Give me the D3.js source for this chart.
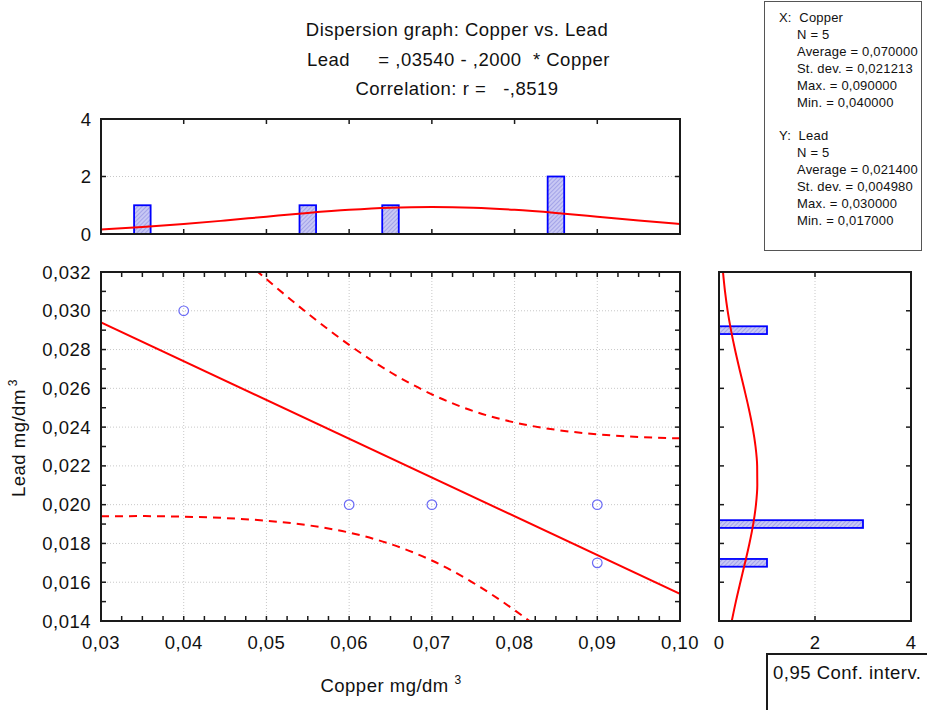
<!DOCTYPE html>
<html><head><meta charset="utf-8">
<script src="https://cdn.jsdelivr.net/npm/d3@7"></script>
<style>
html,body{margin:0;padding:0;background:#fff;}
svg{display:block;font-family:"Liberation Sans",Arial,sans-serif;}
</style></head>
<body><svg id="c" width="927" height="710"></svg>
<script>
// ---- data ----
const copper = [0.04, 0.06, 0.07, 0.09, 0.09];
const lead   = [0.030, 0.020, 0.020, 0.020, 0.017];
const regX = [0.03, 0.10];
const regY = [0.0294, 0.0154];
const bandX = [0.030,0.035,0.040,0.045,0.050,0.055,0.060,0.065,0.070,0.075,0.080,0.085,0.090,0.095,0.100];
const bandUpper = [0.03940,0.03739,0.03542,0.03349,0.03163,0.02986,0.02824,0.02683,0.02569,0.02483,0.02424,0.02386,0.02363,0.02349,0.02342];
const bandLower = [0.01940,0.01941,0.01938,0.01931,0.01917,0.01894,0.01856,0.01797,0.01712,0.01597,0.01456,0.01294,0.01117,0.00931,0.00738];
const xHistCenters = [0.035, 0.055, 0.065, 0.085];
const xHistCounts  = [1, 1, 1, 2];
const xNormX = [0.030,0.035,0.040,0.045,0.050,0.055,0.060,0.065,0.070,0.075,0.080,0.085,0.090,0.095,0.100];
const xNormY = [0.159,0.241,0.346,0.470,0.603,0.732,0.841,0.915,0.940,0.915,0.841,0.732,0.603,0.470,0.346];
const yHistCenters = [0.029, 0.019, 0.017];
const yHistCounts  = [1, 3, 1];
const yNormY = [0.014,0.015,0.016,0.017,0.018,0.019,0.020,0.021,0.022,0.023,0.024,0.025,0.026,0.027,0.028,0.029,0.030,0.031,0.032];
const yNormX = [0.266,0.351,0.445,0.542,0.634,0.713,0.770,0.798,0.795,0.761,0.699,0.617,0.523,0.426,0.333,0.250,0.180,0.125,0.083];
const xTicks = [0.03,0.04,0.05,0.06,0.07,0.08,0.09,0.10];
const yTicks = [0.014,0.016,0.018,0.020,0.022,0.024,0.026,0.028,0.030,0.032];
const countTicks = [0, 2, 4];
const titleLines = ["Dispersion graph: Copper vs. Lead", "Lead     = ,03540 - ,2000  * Copper", "Correlation: r =   -,8519"];
const statsLines = [
  ["X:  Copper", 0], ["N = 5", 1], ["Average = 0,070000", 1], ["St. dev. = 0,021213", 1], ["Max. = 0,090000", 1], ["Min. = 0,040000", 1],
  ["", 0],
  ["Y:  Lead", 0], ["N = 5", 1], ["Average = 0,021400", 1], ["St. dev. = 0,004980", 1], ["Max. = 0,030000", 1], ["Min. = 0,017000", 1]
];

// ---- layout ----
const svg = d3.select("#c");
const M = {l:101, r:680, t:272, b:621};
const T = {t:119, b:234};
const R = {l:719, r:911};
const FS = 18.5, LS = 0.5;
const fmt2 = v => d3.format(".2f")(v).replace(".", ",");
const fmt3 = v => d3.format(".3f")(v).replace(".", ",");
const frameColor = "#1a1a1a";
const red = "#ff0000";

const x = d3.scaleLinear().domain([0.03,0.10]).range([M.l, M.r]);
const y = d3.scaleLinear().domain([0.014,0.032]).range([M.b, M.t]);
const yc = d3.scaleLinear().domain([0,4]).range([T.b, T.t]);
const xc = d3.scaleLinear().domain([0,4]).range([R.l, R.r]);

// pattern
const defs = svg.append("defs");
const pat = defs.append("pattern").attr("id","hatch").attr("patternUnits","userSpaceOnUse")
  .attr("width",3).attr("height",3).attr("patternTransform","rotate(45)");
pat.append("rect").attr("width",3).attr("height",3).attr("fill","#c8c8f4");
pat.append("line").attr("x1",0).attr("y1",0).attr("x2",0).attr("y2",3).attr("stroke","#8a8ae0").attr("stroke-width",1.2);
["mainClip","topClip","rightClip"].forEach((id,i)=>{
  const r = [[M.l,M.t,M.r-M.l,M.b-M.t],[M.l,T.t,M.r-M.l,T.b-T.t],[R.l,M.t,R.r-R.l,M.b-M.t]][i];
  defs.append("clipPath").attr("id",id).append("rect").attr("x",r[0]).attr("y",r[1]).attr("width",r[2]).attr("height",r[3]);
});

// ---- title ----
svg.selectAll("text.title").data(titleLines).join("text").attr("class","title")
  .attr("x",(d,i)=> i===1 ? 307 : 457).attr("y",(d,i)=>36+i*29.5).attr("text-anchor",(d,i)=> i===1 ? "start" : "middle")
  .attr("font-size",FS).attr("letter-spacing",LS).attr("fill","#111").attr("xml:space","preserve").style("white-space","pre").text(d=>d);

// ---- stats box ----
svg.append("rect").attr("x",764.5).attr("y",1.5).attr("width",157).attr("height",249).attr("fill","none").attr("stroke","#555").attr("stroke-width",1);
svg.selectAll("text.stat").data(statsLines).join("text").attr("class","stat")
  .attr("x",d=>d[1]? 797: 779).attr("y",(d,i)=>22+i*16.9).attr("font-size",13).attr("letter-spacing",0.2)
  .attr("fill","#111").attr("xml:space","preserve").style("white-space","pre").text(d=>d[0]);

// ---- main plot ----
const gm = svg.append("g");
gm.selectAll("line.gx").data(xTicks.slice(1,-1)).join("line").attr("x1",d=>x(d)).attr("x2",d=>x(d)).attr("y1",M.t).attr("y2",M.b)
  .attr("stroke","#c8c8c8").attr("stroke-dasharray","1,2");
gm.selectAll("line.gy").data(yTicks.slice(1,-1)).join("line").attr("y1",d=>y(d)).attr("y2",d=>y(d)).attr("x1",M.l).attr("x2",M.r)
  .attr("stroke","#c8c8c8").attr("stroke-dasharray","1,2");
const xMinor = d3.range(0, 29).map(i => 0.03 + i*0.0025).filter(v=>v<=0.1000001);
const yMinor = d3.range(0, 19).map(i => 0.014 + i*0.001);
xMinor.forEach(v=>{
  gm.append("line").attr("x1",x(v)).attr("x2",x(v)).attr("y1",M.b).attr("y2",M.b-5).attr("stroke",frameColor).attr("stroke-width",1.5);
  gm.append("line").attr("x1",x(v)).attr("x2",x(v)).attr("y1",M.t).attr("y2",M.t+5).attr("stroke",frameColor).attr("stroke-width",1.5);
});
yMinor.forEach(v=>{
  gm.append("line").attr("y1",y(v)).attr("y2",y(v)).attr("x1",M.l).attr("x2",M.l+5).attr("stroke",frameColor).attr("stroke-width",1.5);
  gm.append("line").attr("y1",y(v)).attr("y2",y(v)).attr("x1",M.r).attr("x2",M.r-5).attr("stroke",frameColor).attr("stroke-width",1.5);
});
const gmc = gm.append("g").attr("clip-path","url(#mainClip)");
gmc.append("path").datum(regX.map((v,i)=>[v,regY[i]])).attr("d",d3.line().x(d=>x(d[0])).y(d=>y(d[1])))
  .attr("fill","none").attr("stroke",red).attr("stroke-width",2);
[bandUpper, bandLower].forEach(arr=>{
  gmc.append("path").datum(bandX.map((v,i)=>[v,arr[i]])).attr("d",d3.line().curve(d3.curveMonotoneX).x(d=>x(d[0])).y(d=>y(d[1])))
    .attr("fill","none").attr("stroke",red).attr("stroke-width",2).attr("stroke-dasharray","8,6");
});
gmc.selectAll("circle").data(copper.map((v,i)=>[v,lead[i]])).join("circle").attr("cx",d=>x(d[0])).attr("cy",d=>y(d[1])).attr("r",4.8)
  .attr("fill","none").attr("stroke","#6a6af5").attr("stroke-width",1.2);
gm.append("rect").attr("x",M.l).attr("y",M.t).attr("width",M.r-M.l).attr("height",M.b-M.t).attr("fill","none").attr("stroke",frameColor).attr("stroke-width",2);
gm.selectAll("text.xl").data(xTicks).join("text").attr("class","xl").attr("x",d=>x(d)).attr("y",649).attr("text-anchor","middle")
  .attr("font-size",FS).attr("letter-spacing",LS).attr("fill","#111").text(fmt2);
gm.selectAll("text.yl").data(yTicks).join("text").attr("class","yl").attr("x",91).attr("y",d=>y(d)+6.5).attr("text-anchor","end")
  .attr("font-size",FS).attr("letter-spacing",LS).attr("fill","#111").text(fmt3);
const xlab = svg.append("text").attr("x",391).attr("y",692).attr("text-anchor","middle").attr("font-size",FS).attr("letter-spacing",LS).attr("fill","#111");
xlab.append("tspan").text("Copper mg/dm ");
xlab.append("tspan").attr("font-size",12).attr("dy",-8).text("3");
const ylab = svg.append("text").attr("transform","translate(25,438) rotate(-90)").attr("text-anchor","middle").attr("font-size",FS).attr("letter-spacing",LS).attr("fill","#111");
ylab.append("tspan").text("Lead mg/dm");
ylab.append("tspan").attr("font-size",12).attr("dy",-8).attr("dx",3).text("3");

// ---- top histogram ----
const gt = svg.append("g");
gt.append("line").attr("x1",M.l).attr("x2",M.r).attr("y1",yc(2)).attr("y2",yc(2)).attr("stroke","#c8c8c8").attr("stroke-dasharray","1,2");
xTicks.forEach(v=>{
  gt.append("line").attr("x1",x(v)).attr("x2",x(v)).attr("y1",T.b).attr("y2",T.b-5).attr("stroke",frameColor).attr("stroke-width",1.5);
  gt.append("line").attr("x1",x(v)).attr("x2",x(v)).attr("y1",T.t).attr("y2",T.t+5).attr("stroke",frameColor).attr("stroke-width",1.5);
});
countTicks.forEach(v=>{
  gt.append("line").attr("y1",yc(v)).attr("y2",yc(v)).attr("x1",M.l).attr("x2",M.l+5).attr("stroke",frameColor).attr("stroke-width",1.5);
  gt.append("line").attr("y1",yc(v)).attr("y2",yc(v)).attr("x1",M.r).attr("x2",M.r-5).attr("stroke",frameColor).attr("stroke-width",1.5);
});
const gtc = gt.append("g").attr("clip-path","url(#topClip)");
gtc.selectAll("rect.bar").data(xHistCenters.map((c,i)=>[c,xHistCounts[i]])).join("rect").attr("class","bar")
  .attr("x",d=>x(d[0]-0.001)).attr("width",d=>x(d[0]+0.001)-x(d[0]-0.001))
  .attr("y",d=>yc(d[1])).attr("height",d=>yc(0)-yc(d[1]))
  .attr("fill","url(#hatch)").attr("stroke","#0000ff").attr("stroke-width",1.8);
gtc.append("path").datum(xNormX.map((v,i)=>[v,xNormY[i]])).attr("d",d3.line().curve(d3.curveMonotoneX).x(d=>x(d[0])).y(d=>yc(d[1])))
  .attr("fill","none").attr("stroke",red).attr("stroke-width",2);
gt.append("rect").attr("x",M.l).attr("y",T.t).attr("width",M.r-M.l).attr("height",T.b-T.t).attr("fill","none").attr("stroke",frameColor).attr("stroke-width",2);
gt.selectAll("text.cl").data(countTicks).join("text").attr("class","cl").attr("x",91).attr("y",d=>yc(d)+6.5).attr("text-anchor","end")
  .attr("font-size",FS).attr("fill","#111").text(d=>d);

// ---- right histogram ----
const gr = svg.append("g");
gr.append("line").attr("x1",xc(2)).attr("x2",xc(2)).attr("y1",M.t).attr("y2",M.b).attr("stroke","#c8c8c8").attr("stroke-dasharray","1,2");
yTicks.forEach(v=>{
  gr.append("line").attr("y1",y(v)).attr("y2",y(v)).attr("x1",R.l).attr("x2",R.l+5).attr("stroke",frameColor).attr("stroke-width",1.5);
  gr.append("line").attr("y1",y(v)).attr("y2",y(v)).attr("x1",R.r).attr("x2",R.r-5).attr("stroke",frameColor).attr("stroke-width",1.5);
});
countTicks.forEach(v=>{
  gr.append("line").attr("x1",xc(v)).attr("x2",xc(v)).attr("y1",M.t).attr("y2",M.t+5).attr("stroke",frameColor).attr("stroke-width",1.5);
  gr.append("line").attr("x1",xc(v)).attr("x2",xc(v)).attr("y1",M.b).attr("y2",M.b-5).attr("stroke",frameColor).attr("stroke-width",1.5);
});
const grc = gr.append("g").attr("clip-path","url(#rightClip)");
grc.selectAll("rect.bar").data(yHistCenters.map((c,i)=>[c,yHistCounts[i]])).join("rect").attr("class","bar")
  .attr("x",xc(0)).attr("width",d=>xc(d[1])-xc(0))
  .attr("y",d=>y(d[0]+0.0002)).attr("height",d=>y(d[0]-0.0002)-y(d[0]+0.0002))
  .attr("fill","url(#hatch)").attr("stroke","#0000ff").attr("stroke-width",1.8);
grc.append("path").datum(yNormY.map((v,i)=>[yNormX[i],v])).attr("d",d3.line().curve(d3.curveMonotoneY).x(d=>xc(d[0])).y(d=>y(d[1])))
  .attr("fill","none").attr("stroke",red).attr("stroke-width",2);
gr.append("rect").attr("x",R.l).attr("y",M.t).attr("width",R.r-R.l).attr("height",M.b-M.t).attr("fill","none").attr("stroke",frameColor).attr("stroke-width",2);
gr.selectAll("text.rl").data(countTicks).join("text").attr("class","rl").attr("x",d=>xc(d)).attr("y",649).attr("text-anchor","middle")
  .attr("font-size",FS).attr("fill","#111").text(d=>d);

// ---- conf interval box ----
svg.append("rect").attr("x",767).attr("y",654).attr("width",165).attr("height",60).attr("fill","#fff").attr("stroke",frameColor).attr("stroke-width",2);
svg.append("text").attr("x",773).attr("y",679).attr("font-size",FS).attr("letter-spacing",LS).attr("fill","#111").text("0,95 Conf. interv.");
</script></body></html>
